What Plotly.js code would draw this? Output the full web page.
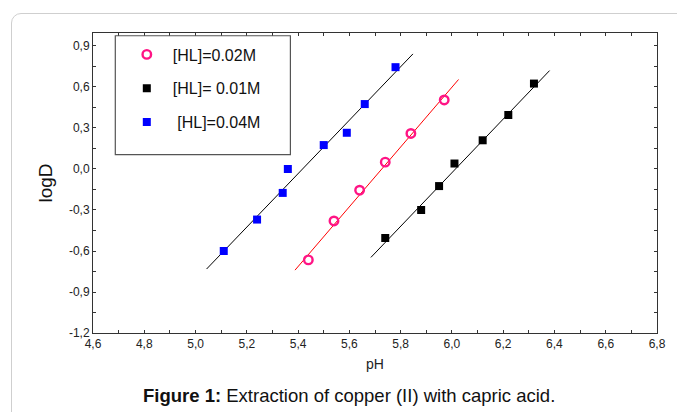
<!DOCTYPE html>
<html>
<head>
<meta charset="utf-8">
<script src="https://cdn.plot.ly/plotly-3.0.1.min.js"></script>
<style>
  html, body { margin: 0; padding: 0; background: #ffffff; }
  #frame { position: absolute; left: 11px; top: 13px; width: 720px; height: 440px;
           border: 1px solid #cfcfcf; border-radius: 10px; box-sizing: border-box; }
  #chart { position: absolute; left: 0; top: 0; width: 677px; height: 412px; }
</style>
</head>
<body>
<div id="frame"></div>
<div id="chart"></div>
<script>
// ---- data ----
const seriesNames = ['[HL]=0.02M', '[HL]= 0.01M', ' [HL]=0.04M'];

const pH02   = [5.44, 5.54, 5.64, 5.74, 5.84, 5.97];
const logD02 = [-0.665, -0.38, -0.155, 0.05, 0.26, 0.505];

const pH01   = [5.74, 5.88, 5.95, 6.01, 6.12, 6.22, 6.32];
const logD01 = [-0.505, -0.30, -0.125, 0.04, 0.21, 0.395, 0.625];

const pH04   = [5.11, 5.24, 5.34, 5.36, 5.50, 5.59, 5.66, 5.78];
const logD04 = [-0.60, -0.37, -0.175, 0.0, 0.175, 0.265, 0.475, 0.745];

// fitted straight lines (end points)
const fit02X = [5.388, 6.026], fit02Y = [-0.74, 0.655];
const fit01X = [5.684, 6.381], fit01Y = [-0.647, 0.72];
const fit04X = [5.043, 5.848], fit04Y = [-0.732, 0.842];

const xTickVals = [4.6, 4.8, 5.0, 5.2, 5.4, 5.6, 5.8, 6.0, 6.2, 6.4, 6.6, 6.8];
const xTickText = ['4,6', '4,8', '5,0', '5,2', '5,4', '5,6', '5,8', '6,0', '6,2', '6,4', '6,6', '6,8'];
const yTickVals = [-1.2, -0.9, -0.6, -0.3, 0.0, 0.3, 0.6, 0.9];
const yTickText = ['-1,2', '-0,9', '-0,6', '-0,3', '0,0', '0,3', '0,6', '0,9'];

const captionBold = 'Figure 1:';
const captionText = ' Extraction of copper (II) with capric acid.';

// ---- traces ----
const FONT = 'Liberation Sans, Arial, sans-serif';
const traces = [
  {x: pH02, y: logD02, name: seriesNames[0], mode: 'markers', type: 'scatter', legendgroup: 'a',
   marker: {symbol: 'circle-open', size: 8.5, color: '#ff1485', line: {width: 2.4, color: '#ff1485'}}},
  {x: pH01, y: logD01, name: seriesNames[1], mode: 'markers', type: 'scatter', legendgroup: 'b',
   marker: {symbol: 'square', size: 8, color: '#000000'}},
  {x: pH04, y: logD04, name: seriesNames[2], mode: 'markers', type: 'scatter', legendgroup: 'c',
   marker: {symbol: 'square', size: 8, color: '#0000ff'}},
];
const lines = [
  {x: fit02X, y: fit02Y, mode: 'lines', type: 'scatter', showlegend: false, hoverinfo: 'skip',
   line: {color: '#ff0000', width: 1}},
  {x: fit01X, y: fit01Y, mode: 'lines', type: 'scatter', showlegend: false, hoverinfo: 'skip',
   line: {color: '#000000', width: 1}},
  {x: fit04X, y: fit04Y, mode: 'lines', type: 'scatter', showlegend: false, hoverinfo: 'skip',
   line: {color: '#000000', width: 1}},
];

const axisCommon = {
  showgrid: false, zeroline: false, showline: true, linecolor: '#333333', linewidth: 1,
  mirror: 'ticks', ticks: 'inside', ticklen: 3, tickcolor: '#333333',
  tickfont: {family: FONT, size: 12, color: '#222222'}, fixedrange: true,
};

const layout = {
  width: 677, height: 412,
  paper_bgcolor: 'rgba(0,0,0,0)', plot_bgcolor: '#ffffff',
  margin: {l: 93, r: 20, t: 33, b: 79},
  separators: ', ',
  font: {family: FONT, color: '#222222'},
  showlegend: true,
  legend: {x: 0.0493, y: 0.985, xanchor: 'left', yanchor: 'top', bgcolor: 'rgba(0,0,0,0)',
           borderwidth: 0, font: {family: FONT, size: 16, color: '#111111'},
           tracegroupgap: 10, traceorder: 'grouped', itemwidth: 42},
  xaxis: Object.assign({}, axisCommon, {
    range: [4.6, 6.8], tickvals: xTickVals, ticktext: xTickText,
    minor: {dtick: 0.1, ticks: 'inside', ticklen: 3, tickcolor: '#333333'},
    title: {text: 'pH', font: {family: FONT, size: 14, color: '#222222'}, standoff: 8},
  }),
  yaxis: Object.assign({}, axisCommon, {
    range: [-1.2, 0.995], tickvals: yTickVals, ticktext: yTickText,
    minor: {dtick: 0.15, ticks: 'inside', ticklen: 3, tickcolor: '#333333'},
    title: {text: 'logD', font: {family: FONT, size: 19, color: '#111111'}, standoff: 11},
  }),
  shapes: [
    {type: 'rect', xref: 'x', yref: 'y', x0: 4.687, x1: 5.37, y0: 0.105, y1: 0.975,
     line: {color: '#555555', width: 1.2}, fillcolor: 'rgba(0,0,0,0)'}
  ],
  annotations: [
    {xref: 'paper', yref: 'paper', x: 0.454, y: -0.208, xanchor: 'center', yanchor: 'middle',
     showarrow: false, text: '<b>' + captionBold + '</b>' + captionText,
     font: {family: FONT, size: 18.5, color: '#111111'}}
  ],
};

Plotly.newPlot('chart', lines.concat(traces), layout, {displayModeBar: false, staticPlot: true});
</script>
</body>
</html>
